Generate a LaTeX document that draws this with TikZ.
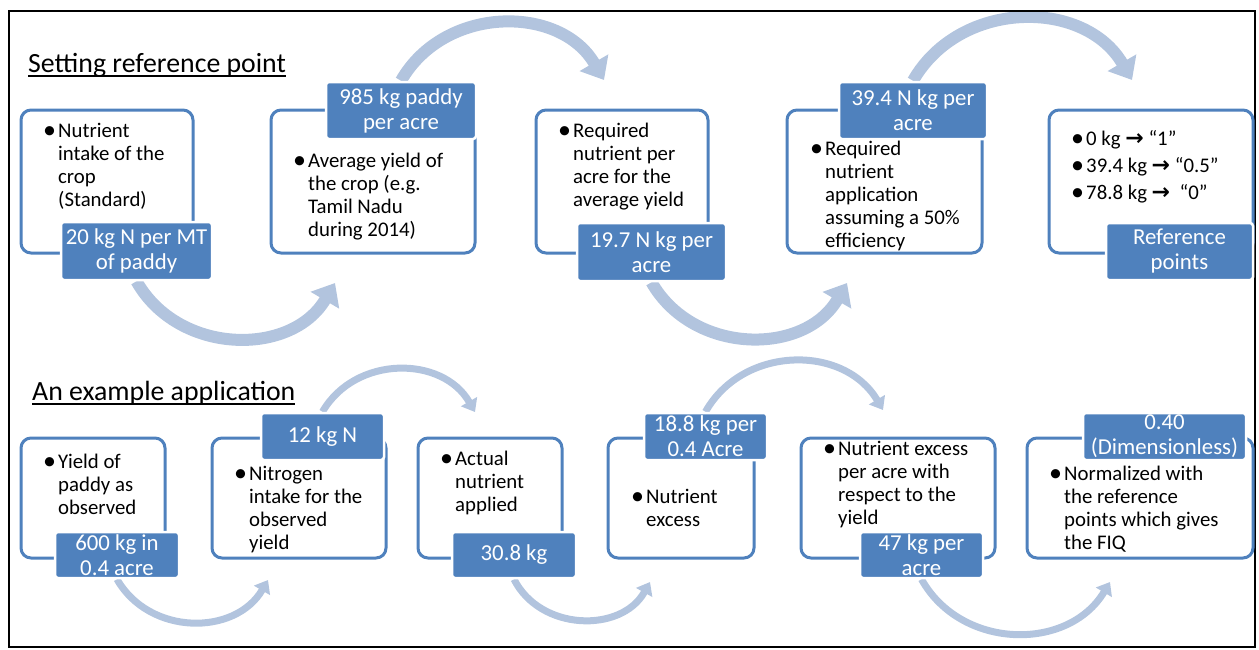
\documentclass[tikz,border=0pt]{standalone}
\usepackage{fontspec}
\setmainfont{Carlito}
\newfontfamily\symfont{DejaVu Sans}
\usetikzlibrary{arrows.meta,backgrounds}
\definecolor{cardblue}{RGB}{79,129,189}
\definecolor{arcblue}{RGB}{178,196,222}
\tikzset{
  card/.style     ={draw=cardblue, fill=white, line width=3pt, rounded corners=10pt, inner sep=0pt},
  tag/.style      ={fill=cardblue, draw=white, line width=2.5pt, rounded corners=3pt, text=white,
                    align=center, inner sep=0pt, font=\fontsize{22.8}{25}\selectfont},
  blt/.style      ={anchor=base west, inner sep=0pt, font=\fontsize{20.8}{23.2}\selectfont},
  hdr/.style      ={anchor=base west, inner sep=0pt, font=\fontsize{27.8}{30}\selectfont},
  flowbig/.style  ={arcblue, line width=12pt, looseness=1.1, -{Triangle[length=20pt,width=32pt]}},
  flowsmall/.style={arcblue, line width=7pt, looseness=1.1, -{Triangle[length=12pt,width=18pt]}},
}
\newcommand{\bul}[1]{\makebox[15pt][l]{\raisebox{-0.05em}{\scalebox{1.25}{\textbullet}}}\begin{tabular}[t]{@{}l@{}}#1\end{tabular}}
\newcommand{\ra}{{\symfont\bfseries\fontsize{22}{22}\selectfont →}}
\newsavebox{\hdrbox}
\newcommand{\hdrline}[1]{\sbox{\hdrbox}{#1}\usebox{\hdrbox}\llap{\rule[-5pt]{\wd\hdrbox}{1.8pt}}}

\begin{document}
\begin{tikzpicture}[x=1pt,y=1pt]
  \useasboundingbox (0,0) rectangle (1259,-649);
  \draw[line width=2pt] (9,-11) rectangle (1255,-647);

  % ---------------- row 1: setting reference point ----------------
  \node[hdr] (h1) at (28,-72) {\hdrline{Setting reference point}};

  \node[card, minimum width=172, minimum height=143] (b1) at (107,-181.5) {};
  \node[card, minimum width=204, minimum height=143] (b2) at (373,-181.5) {};
  \node[card, minimum width=172, minimum height=143] (b3) at (622,-181.5) {};
  \node[card, minimum width=195, minimum height=143] (b4) at (884.5,-181.5) {};
  \node[card, minimum width=204, minimum height=143] (b5) at (1151,-181.5) {};

  \node[tag, minimum width=151, minimum height=58] (l1) at (136.5,-251) {20 kg N per MT\\of paddy};
  \node[tag, minimum width=150, minimum height=57] (l2) at (401,-110.5) {985 kg paddy\\per acre};
  \node[tag, minimum width=149, minimum height=58] (l3) at (651.5,-252) {19.7 N kg per\\acre};
  \node[tag, minimum width=148, minimum height=57] (l4) at (913,-110.5) {39.4 N kg per\\acre};
  \node[tag, minimum width=147, minimum height=57] (l5) at (1179.5,-251.5) {Reference\\points};

  \node[blt] (t1) at (43,-137) {\bul{Nutrient\\intake of the\\crop\\(Standard)}};
  \node[blt] (t2) at (293,-167) {\bul{Average yield of\\the crop (e.g.\\Tamil Nadu\\during 2014)}};
  \node[blt] (t3) at (558,-137) {\bul{Required\\nutrient per\\acre for the\\average yield}};
  \node[blt] (t4) at (810,-155) {\bul{Required\\nutrient\\application\\assuming a 50\%\\efficiency}};
  \node[blt] (t5) at (1071,-145) {\begin{tabular}[t]{@{}l@{}}
      \bul{0 kg \ra\ “1”}\\[3.8pt]
      \bul{39.4 kg \ra\ “0.5”}\\[3.8pt]
      \bul{78.8 kg \ra\ \ “0”}\end{tabular}};

  % ---------------- row 2: an example application ----------------
  \node[hdr] (h2) at (32,-400) {\hdrline{An example application}};

  \node[card, minimum width=144, minimum height=120] (b6)  at (93,-498) {};
  \node[card, minimum width=174, minimum height=120] (b7)  at (299,-498) {};
  \node[card, minimum width=144, minimum height=120] (b8)  at (490,-498) {};
  \node[card, minimum width=146, minimum height=120] (b9)  at (681,-498) {};
  \node[card, minimum width=194, minimum height=120] (b10) at (898,-498) {};
  \node[card, minimum width=226, minimum height=120] (b11) at (1140,-498) {};

  \node[tag, minimum width=124, minimum height=46] (l6)  at (117,-555) {600 kg in\\0.4 acre};
  \node[tag, minimum width=123, minimum height=47] (l7)  at (322.5,-436.5) {12 kg N};
  \node[tag, minimum width=124, minimum height=46] (l8)  at (514,-555) {30.8 kg};
  \node[tag, minimum width=123, minimum height=47] (l9)  at (705.5,-436.5) {18.8 kg per\\0.4 Acre};
  \node[tag, minimum width=123, minimum height=46] (l10) at (921.5,-555) {47 kg per\\acre};
  \node[tag, minimum width=163, minimum height=47] (l11) at (1164.5,-436.5) {0.40\\(Dimensionless)};

  \node[blt] (t6)  at (43,-468)  {\bul{Yield of\\paddy as\\observed}};
  \node[blt] (t7)  at (234,-480) {\bul{Nitrogen\\intake for the\\observed\\yield}};
  \node[blt] (t8)  at (440,-465) {\bul{Actual\\nutrient\\applied}};
  \node[blt] (t9)  at (631,-503) {\bul{Nutrient\\excess}};
  \node[blt] (t10) at (823,-455) {\bul{Nutrient excess\\per acre with\\respect to the\\yield}};
  \node[blt] (t11) at (1049,-480) {\bul{Normalized with\\the reference\\points which gives\\the FIQ}};

  % ---- arrow ends ----
  \coordinate (e1) at (604,-80);
  \coordinate (e2) at (1132,-80);
  \coordinate (e3) at (335,-283);
  \coordinate (e4) at (847,-283);
  \coordinate (e5) at (475,-412);
  \coordinate (e6) at (883,-410);
  \coordinate (e7) at (268,-580);
  \coordinate (e8) at (650,-582);
  \coordinate (e9) at (1110,-582);

  \begin{scope}[on background layer]
    \draw[flowbig] (l2.north) to[bend left=60] (e1);
    \draw[flowbig] (l4.north) to[bend left=60] (e2);
    \draw[flowbig] (l1.south) to[bend right=60] (e3);
    \draw[flowbig] (l3.south) to[bend right=60] (e4);
    \draw[flowsmall] (l7.north) to[bend left=60] (e5);
    \draw[flowsmall] (l9.north) to[bend left=60] (e6);
    \draw[flowsmall] (l6.south) to[bend right=60] (e7);
    \draw[flowsmall] (l8.south) to[bend right=62] (e8);
    \draw[flowsmall] (l10.south) to[bend right=60] (e9);
  \end{scope}
\end{tikzpicture}
\end{document}
